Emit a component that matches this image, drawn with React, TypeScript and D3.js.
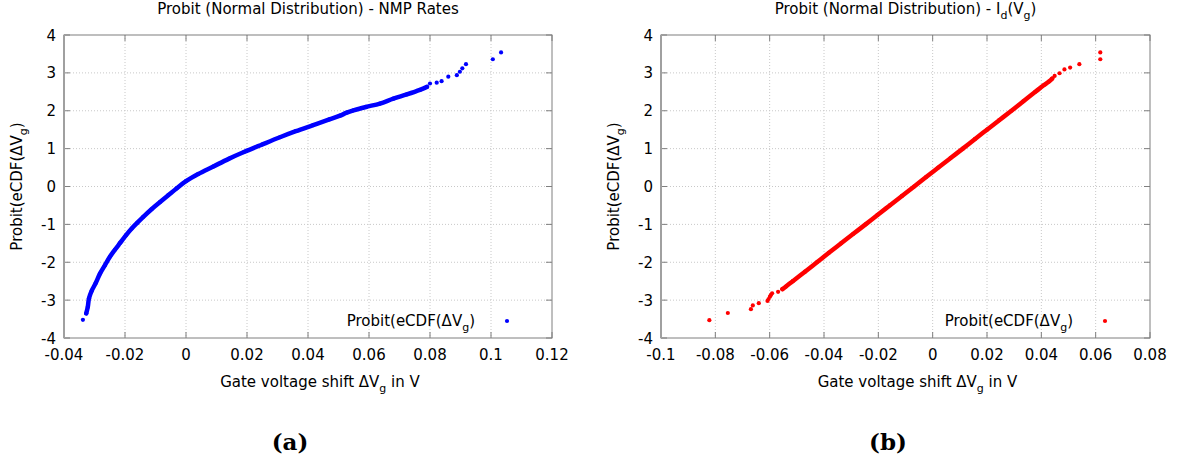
import React from 'react';
import * as d3 from 'd3';

// Panel (a): NMP rates, dense part of the probit curve [ΔVg, probit]
const nmpCurve: [number, number][] = [
  [-0.0327, -3.35], [-0.0322, -3.18], [-0.0318, -2.95], [-0.0309, -2.75],
  [-0.0296, -2.55], [-0.0282, -2.30], [-0.0266, -2.08], [-0.0249, -1.85],
  [-0.0233, -1.67], [-0.0216, -1.49], [-0.0197, -1.29], [-0.0178, -1.11],
  [-0.0160, -0.96], [-0.0140, -0.80], [-0.0113, -0.60], [-0.0085, -0.41],
  [-0.0058, -0.23], [-0.0031, -0.05], [0.0000, 0.14], [0.0040, 0.33],
  [0.0090, 0.53], [0.0140, 0.73], [0.0190, 0.91], [0.0250, 1.11],
  [0.0308, 1.30], [0.0360, 1.46], [0.0417, 1.62], [0.0470, 1.77],
  [0.0505, 1.87], [0.0527, 1.95], [0.0549, 2.01], [0.0590, 2.10],
  [0.0636, 2.19], [0.0680, 2.32], [0.0724, 2.43], [0.0767, 2.55],
  [0.0790, 2.63],
];
// sparse points of panel (a)
const nmpTail: [number, number][] = [
  [-0.0338, -3.52], [0.0800, 2.72], [0.0822, 2.74], [0.0838, 2.78],
  [0.0860, 2.90], [0.0888, 2.94], [0.0898, 3.03], [0.0906, 3.12],
  [0.0918, 3.23], [0.1006, 3.36], [0.1033, 3.54],
];

// Panel (b): Id(Vg)
const idCurve: [number, number][] = [
  [-0.0553, -2.71], [-0.0540, -2.64], [-0.0515, -2.50], [-0.0470, -2.25],
  [-0.0426, -2.00], [-0.0382, -1.75], [-0.0337, -1.50], [-0.0292, -1.25],
  [-0.0247, -1.00], [-0.0203, -0.75], [-0.0158, -0.50], [-0.0113, -0.25],
  [-0.0068, 0.00], [-0.0024, 0.25], [0.0021, 0.50], [0.0066, 0.75],
  [0.0111, 1.00], [0.0155, 1.25], [0.0200, 1.50], [0.0245, 1.75],
  [0.0290, 2.00], [0.0334, 2.25], [0.0378, 2.50], [0.0410, 2.68],
  [0.0428, 2.77], [0.0440, 2.85],
];
const idTail: [number, number][] = [
  [-0.0822, -3.53], [-0.0754, -3.34], [-0.0669, -3.24], [-0.0662, -3.14],
  [-0.0640, -3.08], [-0.0608, -3.02], [-0.0604, -2.97], [-0.0599, -2.91],
  [-0.0596, -2.87], [-0.0591, -2.82], [-0.0569, -2.78], [0.0449, 2.92],
  [0.0467, 2.99], [0.0485, 3.09], [0.0506, 3.14], [0.0540, 3.23],
  [0.0617, 3.36], [0.0617, 3.54],
];

const nmpXTicks = [-0.04, -0.02, 0, 0.02, 0.04, 0.06, 0.08, 0.1, 0.12];
const idXTicks = [-0.1, -0.08, -0.06, -0.04, -0.02, 0, 0.02, 0.04, 0.06, 0.08];
const yTicks = [-4, -3, -2, -1, 0, 1, 2, 3, 4];

const FONT = 'DejaVu Sans, sans-serif';
const FS = 15;
const FRAME = '#7f7f7f';

// text with a subscript, followed by text on the baseline again
const Sub = ({ base, sub, after = '' }: { base: string; sub: string; after?: string }) => (
  <>
    <tspan>{base}</tspan>
    <tspan dy={5} fontSize={11}>{sub}</tspan>
    <tspan dy={-5}>{after || '\u200b'}</tspan>
  </>
);

function Panel({ left, right, xTicks, curve, tail, color, title, caption }: any) {
  const top = 35;
  const bottom = 338;
  const x = d3.scaleLinear().domain([xTicks[0], xTicks[xTicks.length - 1]]).range([left, right]);
  const y = d3.scaleLinear().domain([-4, 4]).range([bottom, top]);
  const cx = (left + right) / 2;
  const fmt = (d: number) => (d === 0 ? '0' : String(+d.toFixed(2)));
  const line = d3.line<[number, number]>().x(d => x(d[0])).y(d => y(d[1])).curve(d3.curveCatmullRom);

  return (
    <g>
      {/* grid */}
      {xTicks.slice(1, -1).map((t: number) => (
        <line key={'gx' + t} x1={x(t)} x2={x(t)} y1={top} y2={bottom}
          stroke="#c8c8c8" strokeDasharray="1,2" />
      ))}
      {yTicks.slice(1, -1).map(t => (
        <line key={'gy' + t} x1={left} x2={right} y1={y(t)} y2={y(t)}
          stroke="#c8c8c8" strokeDasharray="1,2" />
      ))}
      {/* ticks, mirrored on all sides */}
      {xTicks.map((t: number) => (
        <g key={'tx' + t}>
          <line x1={x(t)} x2={x(t)} y1={bottom} y2={bottom - 6} stroke={FRAME} />
          <line x1={x(t)} x2={x(t)} y1={top} y2={top + 6} stroke={FRAME} />
          <text x={x(t)} y={bottom + 22} textAnchor="middle" fontSize={FS} fontFamily={FONT}>{fmt(t)}</text>
        </g>
      ))}
      {yTicks.map(t => (
        <g key={'ty' + t}>
          <line x1={left} x2={left + 6} y1={y(t)} y2={y(t)} stroke={FRAME} />
          <line x1={right} x2={right - 6} y1={y(t)} y2={y(t)} stroke={FRAME} />
          <text x={left - 8} y={y(t) + 5.5} textAnchor="end" fontSize={FS} fontFamily={FONT}>{t}</text>
        </g>
      ))}
      <rect x={left} y={top} width={right - left} height={bottom - top} fill="none" stroke={FRAME} />
      <line x1={left} x2={left} y1={top} y2={bottom} stroke="#a0a0a0" strokeWidth={2} />

      {/* data */}
      <path d={line(curve) || ''} fill="none" stroke={color} strokeWidth={4.5}
        strokeLinecap="round" strokeLinejoin="round" />
      {curve.concat(tail).map((d: [number, number], i: number) => (
        <circle key={'p' + i} cx={x(d[0])} cy={y(d[1])} r={2.1} fill={color} />
      ))}

      {/* legend */}
      <text x={right - 77} y={326} textAnchor="end" fontSize={FS} fontFamily={FONT}>
        <Sub base="Probit(eCDF(ΔV" sub="g" after=")" />
      </text>
      <circle cx={right - 45} cy={321} r={2.1} fill={color} />

      {/* titles */}
      <text x={cx} y={14} textAnchor="middle" fontSize={FS} fontFamily={FONT}>{title}</text>
      <text x={cx + 12} y={387} textAnchor="middle" fontSize={FS} fontFamily={FONT}>
        <Sub base="Gate voltage shift ΔV" sub="g" after=" in V" />
      </text>
      <text transform={`translate(${left - 42},${(top + bottom) / 2}) rotate(-90)`} textAnchor="middle"
        fontSize={FS} fontFamily={FONT}>
        <Sub base="Probit(eCDF(ΔV" sub="g" after=")" />
      </text>
      <text x={caption.x} y={450} textAnchor="middle" fontSize={23} fontWeight="bold"
        fontFamily="DejaVu Serif, serif">{caption.label}</text>
    </g>
  );
}

export default function App() {
  return (
    <svg width={1178} height={465} style={{ position: 'absolute', left: 0, top: 0, background: '#fff' }}>
      <Panel left={64} right={552} xTicks={nmpXTicks} curve={nmpCurve} tail={nmpTail} color="#0000ff"
        title="Probit (Normal Distribution) - NMP Rates" caption={{ x: 290, label: '(a)' }} />
      <Panel left={661} right={1150} xTicks={idXTicks} curve={idCurve} tail={idTail} color="#ff0000"
        title={<><tspan>Probit (Normal Distribution) - I</tspan><tspan dy={5} fontSize={11}>d</tspan>
          <tspan dy={-5}>(V</tspan><tspan dy={5} fontSize={11}>g</tspan><tspan dy={-5}>)</tspan></>}
        caption={{ x: 888, label: '(b)' }} />
    </svg>
  );
}
